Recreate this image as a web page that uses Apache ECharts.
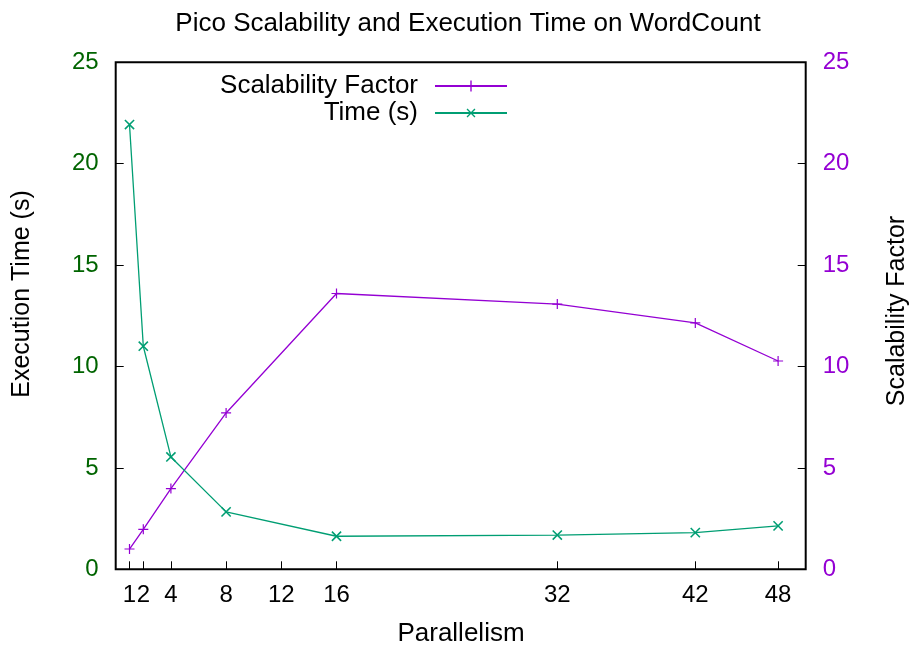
<!DOCTYPE html>
<html>
<head>
<meta charset="utf-8">
<script src="https://cdn.jsdelivr.net/npm/echarts@6/dist/echarts.min.js"></script>
<style>html,body{margin:0;padding:0;background:#fff}#c{width:914px;height:648px}</style>
</head>
<body>
<div id="c"></div>
<script>
const parallelism = [1, 2, 4, 8, 16, 32, 42, 48];
const scalability = [1.0, 1.97, 3.98, 7.71, 13.6, 13.08, 12.15, 10.27];
const execTime = [21.93, 11.0, 5.54, 2.83, 1.63, 1.69, 1.81, 2.14];
const xTicks = [1, 2, 4, 8, 12, 16, 32, 42, 48];
const yTicks = [0, 5, 10, 15, 20, 25];

const FONT = 'Liberation Sans, Arial, Helvetica, sans-serif';
const FS = 24;
const FS_BIG = 26;
const PURPLE = '#9400D3';
const GREEN = '#009E73';
const DKGREEN = '#006400';
const PLUS = 'path://M0,4.4H10V5.6H0Z M4.4,0H5.6V10H4.4Z';

const chart = echarts.init(document.getElementById('c'), null, {renderer: 'canvas'});
const L = 115.7, R = 805.7, T = 62.3, B = 569.3;
chart.setOption({
  animation: false,
  backgroundColor: '#fff',
  textStyle: {fontFamily: FONT},
  title: {
    text: 'Pico Scalability and Execution Time on WordCount',
    left: 463, top: 6, textAlign: 'center',
    textStyle: {fontFamily: FONT, fontSize: FS_BIG, fontWeight: 'normal', color: '#000'}
  },
  legend: [
    {data: ['Scalability Factor'], right: 914 - 508, top: 73, orient: 'vertical', align: 'right',
     itemWidth: 72, itemHeight: 14, padding: 0,
     textStyle: {fontFamily: FONT, fontSize: FS_BIG, color: '#000', padding: [0, 12, 0, 0]}},
    {data: ['Time (s)'], right: 914 - 508, top: 100, orient: 'vertical', align: 'right',
     itemWidth: 72, itemHeight: 14, padding: 0,
     textStyle: {fontFamily: FONT, fontSize: FS_BIG, color: '#000', padding: [0, 12, 0, 0]}}
  ],
  grid: {left: L, right: 914 - R, top: T, bottom: 648 - B, show: true, borderColor: '#000', borderWidth: 2, containLabel: false},
  xAxis: {
    type: 'value', min: 0, max: 50,
    axisLine: {show: false},
    splitLine: {show: false},
    axisTick: {show: true, inside: true, length: 8, customValues: xTicks, lineStyle: {color: '#000', width: 1}},
    axisLabel: {customValues: xTicks, fontFamily: FONT, fontSize: FS, color: '#000', margin: 14, hideOverlap: false}
  },
  yAxis: [
    {type: 'value', min: 0, max: 25, interval: 5, position: 'left',
     axisLine: {show: false}, splitLine: {show: false},
     axisTick: {show: true, inside: true, length: 8, lineStyle: {color: '#000', width: 1}},
     axisLabel: {fontFamily: FONT, fontSize: FS, color: DKGREEN, margin: 17}},
    {type: 'value', min: 0, max: 25, interval: 5, position: 'right',
     axisLine: {show: false}, splitLine: {show: false},
     axisTick: {show: true, inside: true, length: 8, lineStyle: {color: '#000', width: 1}},
     axisLabel: {fontFamily: FONT, fontSize: FS, color: PURPLE, margin: 17}}
  ],
  graphic: [
    {type: 'text', x: 22, y: 294, rotation: Math.PI / 2,
     style: {text: 'Execution Time (s)', font: '25px ' + FONT, fill: '#000', textAlign: 'center', textVerticalAlign: 'middle'}},
    {type: 'text', x: 897, y: 311, rotation: Math.PI / 2,
     style: {text: 'Scalability Factor', font: '25px ' + FONT, fill: '#000', textAlign: 'center', textVerticalAlign: 'middle'}},
    {type: 'text', x: 461, y: 634,
     style: {text: 'Parallelism', font: FS_BIG + 'px ' + FONT, fill: '#000', textAlign: 'center', textVerticalAlign: 'middle'}}
  ],
  series: [
    {name: 'Scalability Factor', type: 'line', yAxisIndex: 1,
     data: parallelism.map((p, i) => [p, scalability[i]]),
     symbol: PLUS, symbolSize: 10, showAllSymbol: true,
     lineStyle: {color: PURPLE, width: 1.3}, itemStyle: {color: PURPLE}},
    {name: 'Time (s)', type: 'line', yAxisIndex: 0,
     data: parallelism.map((p, i) => [p, execTime[i]]),
     symbol: PLUS, symbolSize: 13, symbolRotate: 45, showAllSymbol: true,
     lineStyle: {color: GREEN, width: 1.3}, itemStyle: {color: GREEN}}
  ]
});
</script>
</body>
</html>
